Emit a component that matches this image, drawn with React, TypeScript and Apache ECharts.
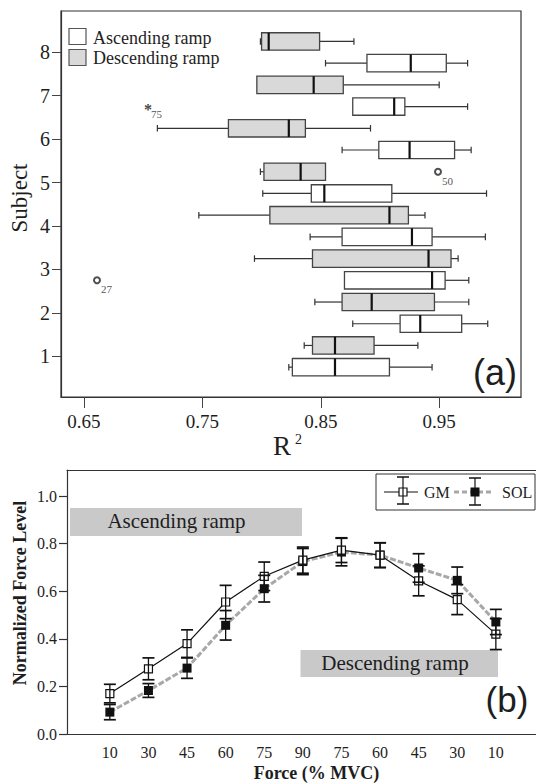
import React, { useEffect, useRef } from "react";
import * as echarts from "echarts";

// ---------- Panel (a): R^2 box plots ----------
const subjects = [1, 2, 3, 4, 5, 6, 7, 8];
const r2Ticks = [0.65, 0.75, 0.85, 0.95];

// Ascending ramp (white boxes)
const ascMin = [0.823, 0.877, 0.870, 0.841, 0.801, 0.868, 0.877, 0.854];
const ascQ1 = [0.826, 0.917, 0.870, 0.868, 0.842, 0.899, 0.877, 0.889];
const ascMed = [0.862, 0.934, 0.944, 0.927, 0.853, 0.925, 0.912, 0.926];
const ascQ3 = [0.908, 0.969, 0.955, 0.944, 0.910, 0.963, 0.921, 0.956];
const ascMax = [0.944, 0.991, 0.975, 0.989, 0.990, 0.977, 0.974, 0.974];

// Descending ramp (grey boxes)
const descMin = [0.836, 0.845, 0.794, 0.747, 0.799, 0.712, 0.796, 0.799];
const descQ1 = [0.843, 0.868, 0.843, 0.807, 0.802, 0.772, 0.796, 0.800];
const descMed = [0.862, 0.893, 0.941, 0.908, 0.833, 0.823, 0.844, 0.806];
const descQ3 = [0.895, 0.946, 0.960, 0.924, 0.854, 0.837, 0.869, 0.849];
const descMax = [0.932, 0.975, 0.966, 0.938, 0.854, 0.892, 0.950, 0.878];

// Outliers
const outlierSubject = [3, 5, 7];
const outlierRamp = ["asc", "desc", "asc"];
const outlierValue = [0.661, 0.949, 0.704];
const outlierCase = ["27", "50", "75"];
const outlierKind = ["mild", "mild", "extreme"];

// ---------- Panel (b): force level ----------
const forceLabels = ["10", "30", "45", "60", "75", "90", "75", "60", "45", "30", "10"];
const gmMean = [0.170, 0.274, 0.380, 0.555, 0.663, 0.731, 0.773, 0.752, 0.644, 0.565, 0.420];
const gmErr = [0.039, 0.046, 0.058, 0.070, 0.060, 0.055, 0.052, 0.052, 0.063, 0.063, 0.065];
const solMean = [0.092, 0.183, 0.277, 0.457, 0.611, 0.725, 0.765, 0.752, 0.698, 0.646, 0.471];
const solErr = [0.032, 0.029, 0.043, 0.062, 0.056, 0.055, 0.058, 0.052, 0.060, 0.056, 0.053];
const forceTicks = [0, 0.2, 0.4, 0.6, 0.8, 1.0];

const SERIF = "'Liberation Serif', 'Times New Roman', serif";
const SANS = "'Liberation Sans', Arial, sans-serif";
const INK = "#1e1e1e";

const boxRender = (fill: string) => (params: any, api: any) => {
  const y = api.value(0);
  const mn = api.value(1), q1 = api.value(2), md = api.value(3), q3 = api.value(4), mx = api.value(5);
  const h = api.size([0, 0.4])[1];
  const cap = api.size([0, 0.15])[1];
  const c = (v: number) => api.coord([v, y]);
  const pMn = c(mn), pQ1 = c(q1), pMd = c(md), pQ3 = c(q3), pMx = c(mx);
  const cy = pMn[1];
  const ws = { stroke: "#333", lineWidth: 1.2 };
  const children: any[] = [];
  if (q1 - mn > 1e-6) {
    children.push({ type: "line", shape: { x1: pMn[0], y1: cy, x2: pQ1[0], y2: cy }, style: ws });
    children.push({ type: "line", shape: { x1: pMn[0], y1: cy - cap / 2, x2: pMn[0], y2: cy + cap / 2 }, style: ws });
  }
  if (mx - q3 > 1e-6) {
    children.push({ type: "line", shape: { x1: pQ3[0], y1: cy, x2: pMx[0], y2: cy }, style: ws });
    children.push({ type: "line", shape: { x1: pMx[0], y1: cy - cap / 2, x2: pMx[0], y2: cy + cap / 2 }, style: ws });
  }
  children.push({
    type: "rect",
    shape: { x: pQ1[0], y: cy - h / 2, width: pQ3[0] - pQ1[0], height: h },
    style: { fill, stroke: "#444", lineWidth: 1.3 },
  });
  children.push({
    type: "line",
    shape: { x1: pMd[0], y1: cy - h / 2, x2: pMd[0], y2: cy + h / 2 },
    style: { stroke: "#111", lineWidth: 2.2 },
  });
  return { type: "group", children };
};

const errRender = (params: any, api: any) => {
  const x = api.value(0), m = api.value(1), e = api.value(2);
  const top = api.coord([x, m + e]);
  const bot = api.coord([x, m - e]);
  const hw = 6;
  const st = { stroke: "#111", lineWidth: 1.3 };
  const cs = { stroke: "#111", lineWidth: 1.7 };
  return {
    type: "group",
    children: [
      { type: "line", shape: { x1: top[0], y1: top[1], x2: bot[0], y2: bot[1] }, style: st },
      { type: "line", shape: { x1: top[0] - hw, y1: top[1], x2: top[0] + hw, y2: top[1] }, style: cs },
      { type: "line", shape: { x1: bot[0] - hw, y1: bot[1], x2: bot[0] + hw, y2: bot[1] }, style: cs },
    ],
  };
};

function txt(text: string, x: number, y: number, size: number, opts: any = {}) {
  return {
    type: "text",
    x,
    y,
    rotation: opts.rotation || 0,
    z: 20,
    style: {
      text,
      fontFamily: opts.family || SERIF,
      fontSize: size,
      fontWeight: opts.weight || "normal",
      fill: INK,
      textAlign: opts.align || "left",
      align: opts.align || "left",
      textVerticalAlign: "middle",
      verticalAlign: "middle",
    },
  };
}

function buildOption() {
  const ascData = subjects.map((s, i) => [s - 0.25, ascMin[i], ascQ1[i], ascMed[i], ascQ3[i], ascMax[i]]);
  const descData = subjects.map((s, i) => [s + 0.25, descMin[i], descQ1[i], descMed[i], descQ3[i], descMax[i]]);
  const mild: any[] = [];
  const extreme: any[] = [];
  outlierSubject.forEach((s, i) => {
    const item = { value: [outlierValue[i], outlierRamp[i] === "asc" ? s - 0.25 : s + 0.25], name: outlierCase[i] };
    (outlierKind[i] === "mild" ? mild : extreme).push(item);
  });

  const gmLine = forceLabels.map((_, i) => [i, gmMean[i]]);
  const solLine = forceLabels.map((_, i) => [i, solMean[i]]);
  const gmErrData = forceLabels.map((_, i) => [i, gmMean[i], gmErr[i]]);
  const solErrData = forceLabels.map((_, i) => [i, solMean[i], solErr[i]]);

  const axisLineStyle = { color: "#333", width: 1.2 };

  return {
    animation: false,
    backgroundColor: "#fff",
    grid: [
      { left: 61, top: 11, width: 460, height: 386, show: true, borderColor: "#333", borderWidth: 1.2, backgroundColor: "transparent", outerBoundsMode: "none" },
      { left: 67, top: 470, width: 469, height: 264, outerBoundsMode: "none" },
    ],
    xAxis: [
      {
        type: "value", gridIndex: 0, min: 0.6306, max: 1.0191,
        axisLine: { show: true, onZero: false, lineStyle: axisLineStyle },
        axisTick: { show: true, length: 11, customValues: r2Ticks, lineStyle: { color: "#444", width: 1 } },
        axisLabel: { customValues: r2Ticks, formatter: (v: number) => v.toFixed(2), fontFamily: SERIF, fontSize: 19, color: INK, margin: 15 },
        splitLine: { show: false },
      },
      {
        type: "value", gridIndex: 1, min: -1.11, max: 11.04,
        axisLine: { show: true, onZero: false, lineStyle: axisLineStyle },
        axisTick: { show: false },
        axisLabel: {
          customValues: forceLabels.map((_, i) => i),
          formatter: (v: number) => forceLabels[Math.round(v)] ?? "",
          fontFamily: SERIF, fontSize: 16, color: INK, margin: 10,
        },
        splitLine: { show: false },
      },
      {
        type: "value", gridIndex: 1, position: "top", min: -1.11, max: 11.04,
        axisLine: { show: true, onZero: false, lineStyle: axisLineStyle },
        axisTick: { show: false }, axisLabel: { show: false }, splitLine: { show: false },
      },
    ],
    yAxis: [
      {
        type: "value", gridIndex: 0, min: 0.063, max: 8.951,
        axisLine: { show: true, onZero: false, lineStyle: axisLineStyle },
        axisTick: { show: true, length: 9, customValues: subjects, lineStyle: { color: "#444", width: 1 } },
        axisLabel: { customValues: subjects, formatter: (v: number) => String(Math.round(v)), fontFamily: SERIF, fontSize: 20, color: INK, margin: 11 },
        splitLine: { show: false },
      },
      {
        type: "value", gridIndex: 1, min: 0, max: 1.11,
        axisLine: { show: true, onZero: false, lineStyle: axisLineStyle },
        axisTick: { show: true, length: 8, customValues: forceTicks, lineStyle: { color: "#333", width: 1.2 } },
        axisLabel: { customValues: forceTicks, formatter: (v: number) => v.toFixed(1), fontFamily: SERIF, fontSize: 16, color: INK, margin: 10 },
        splitLine: { show: false },
      },
    ],
    series: [
      { type: "custom", name: "Ascending ramp", xAxisIndex: 0, yAxisIndex: 0, renderItem: boxRender("#ffffff"), encode: { x: [1, 2, 3, 4, 5], y: 0 }, data: ascData, z: 3 },
      { type: "custom", name: "Descending ramp", xAxisIndex: 0, yAxisIndex: 0, renderItem: boxRender("#d9d9d9"), encode: { x: [1, 2, 3, 4, 5], y: 0 }, data: descData, z: 3 },
      {
        type: "scatter", xAxisIndex: 0, yAxisIndex: 0, data: mild, symbol: "emptyCircle", symbolSize: 6,
        itemStyle: { color: "#222", borderWidth: 1.2 },
        label: { show: true, position: "inside", offset: [9.5, 9], formatter: (p: any) => p.name, fontFamily: SERIF, fontSize: 11, color: INK },
        z: 4,
      },
      {
        type: "scatter", xAxisIndex: 0, yAxisIndex: 0, data: extreme, symbolSize: 0,
        itemStyle: { color: "transparent" },
        label: { show: true, position: "inside", offset: [0, 3], formatter: "*", fontFamily: SERIF, fontSize: 16, fontWeight: "bold", color: "#111" },
        z: 4,
      },
      {
        type: "scatter", xAxisIndex: 0, yAxisIndex: 0, data: extreme, symbolSize: 0,
        itemStyle: { color: "transparent" },
        label: { show: true, position: "inside", offset: [8.5, 7.5], formatter: (p: any) => p.name, fontFamily: SERIF, fontSize: 11, color: INK },
        z: 4,
      },
      {
        type: "line", name: "SOL", xAxisIndex: 1, yAxisIndex: 1, data: solLine,
        symbol: "rect", symbolSize: 9, itemStyle: { color: "#111", borderColor: "#111", borderWidth: 0 },
        lineStyle: { color: "#a8a8a8", width: 3, type: [6, 2] }, z: 3,
      },
      {
        type: "line", name: "GM", xAxisIndex: 1, yAxisIndex: 1, data: gmLine,
        symbol: "rect", symbolSize: 8, itemStyle: { color: "#fff", borderColor: "#111", borderWidth: 1.2 },
        lineStyle: { color: "#111", width: 1.2 }, z: 5,
      },
      { type: "custom", xAxisIndex: 1, yAxisIndex: 1, renderItem: errRender, encode: { x: 0, y: [1, 2] }, data: solErrData, z: 6 },
      { type: "custom", xAxisIndex: 1, yAxisIndex: 1, renderItem: errRender, encode: { x: 0, y: [1, 2] }, data: gmErrData, z: 6 },
    ],
    graphic: [
      // panel (a) legend
      { type: "rect", shape: { x: 69, y: 28.5, width: 17, height: 16 }, style: { fill: "#fff", stroke: "#555", lineWidth: 1.2 }, z: 20 },
      { type: "rect", shape: { x: 69, y: 49.5, width: 17, height: 16 }, style: { fill: "#d9d9d9", stroke: "#555", lineWidth: 1.2 }, z: 20 },
      txt("Ascending ramp", 93, 38, 18),
      txt("Descending ramp", 93, 57.5, 18),
      txt("(a)", 495, 372, 36, { family: SANS, align: "center" }),
      txt("R", 273, 446, 27),
      txt("2", 295, 439, 14),
      txt("Subject", 19, 198, 23, { rotation: Math.PI / 2, align: "center" }),
      // panel (b)
      { type: "rect", shape: { x: 70, y: 508, width: 232, height: 28 }, style: { fill: "#c9c9c9" }, z: 1 },
      txt("Ascending ramp", 176.5, 521, 21, { align: "center" }),
      { type: "rect", shape: { x: 300.5, y: 650, width: 197.5, height: 27 }, style: { fill: "#c9c9c9" }, z: 1 },
      txt("Descending ramp", 395, 662.5, 21, { align: "center" }),
      txt("(b)", 507, 699, 35, { family: SANS, align: "center" }),
      txt("Normalized Force Level", 20, 593, 18, { rotation: Math.PI / 2, align: "center", weight: "bold" }),
      txt("Force (% MVC)", 316.5, 772.5, 18, { align: "center", weight: "bold" }),
      // panel (b) legend
      { type: "rect", shape: { x: 376, y: 474, width: 159, height: 36 }, style: { fill: "#fff", stroke: "#333", lineWidth: 1 }, z: 20 },
      { type: "line", shape: { x1: 384, y1: 492, x2: 418, y2: 492 }, style: { stroke: "#111", lineWidth: 1.2 }, z: 21 },
      { type: "rect", shape: { x: 399, y: 488, width: 8, height: 8 }, style: { fill: "#fff", stroke: "#111", lineWidth: 1.2 }, z: 22 },
      { type: "line", shape: { x1: 403, y1: 477, x2: 403, y2: 504 }, style: { stroke: "#111", lineWidth: 1.2 }, z: 23 },
      { type: "line", shape: { x1: 397, y1: 477, x2: 409, y2: 477 }, style: { stroke: "#111", lineWidth: 1.5 }, z: 23 },
      { type: "line", shape: { x1: 397, y1: 504, x2: 409, y2: 504 }, style: { stroke: "#111", lineWidth: 1.5 }, z: 23 },
      txt("GM", 424, 492.5, 16),
      { type: "line", shape: { x1: 454, y1: 492, x2: 494, y2: 492 }, style: { stroke: "#a8a8a8", lineWidth: 3, lineDash: [5, 3] }, z: 21 },
      { type: "rect", shape: { x: 470.5, y: 487.5, width: 9, height: 9 }, style: { fill: "#111" }, z: 22 },
      { type: "line", shape: { x1: 475, y1: 478, x2: 475, y2: 505 }, style: { stroke: "#111", lineWidth: 1.2 }, z: 23 },
      { type: "line", shape: { x1: 469, y1: 478, x2: 481, y2: 478 }, style: { stroke: "#111", lineWidth: 1.5 }, z: 23 },
      { type: "line", shape: { x1: 469, y1: 505, x2: 481, y2: 505 }, style: { stroke: "#111", lineWidth: 1.5 }, z: 23 },
      txt("SOL", 502, 492.5, 16),
    ],
  };
}

export default function App() {
  const ref = useRef<HTMLDivElement>(null);
  useEffect(() => {
    if (!ref.current) return;
    const chart = echarts.init(ref.current, null, { renderer: "svg" });
    chart.setOption(buildOption() as any);
    return () => chart.dispose();
  }, []);
  return (
    <div
      ref={ref}
      style={{ position: "fixed", left: 0, top: 0, width: 536, height: 783, background: "#fff" }}
    />
  );
}
